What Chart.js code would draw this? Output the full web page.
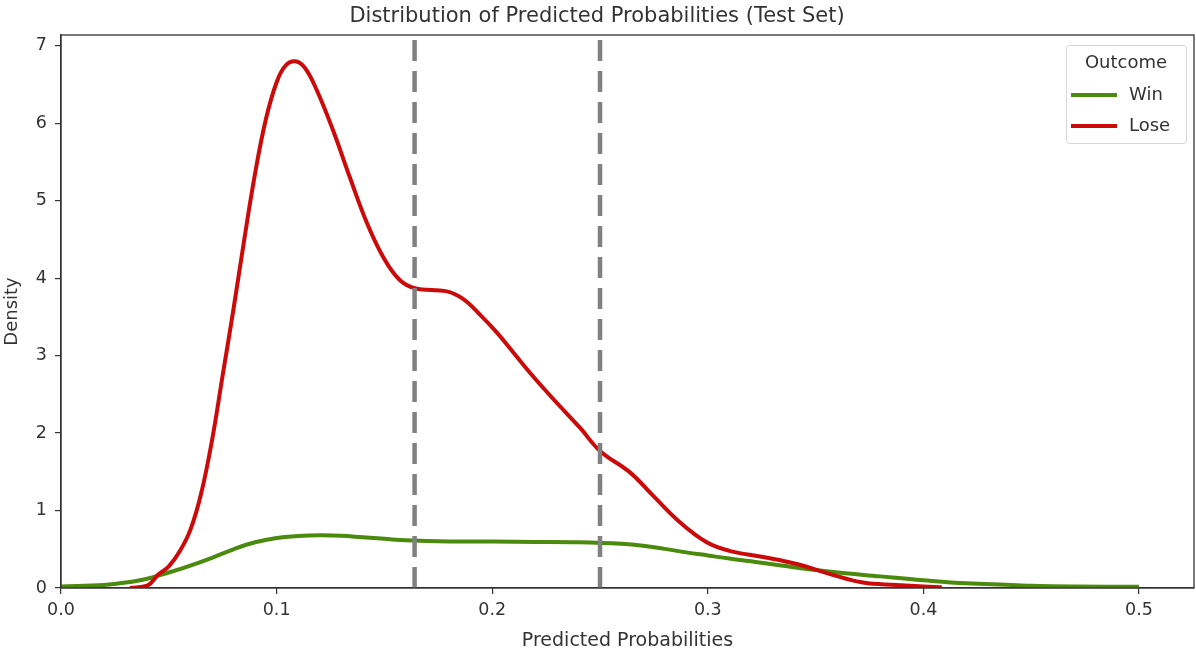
<!DOCTYPE html>
<html>
<head>
<meta charset="utf-8">
<title>Distribution of Predicted Probabilities</title>
<script src="https://cdn.jsdelivr.net/npm/chart.js@4.4.1/dist/chart.umd.min.js"></script>
<style>
  html, body { margin: 0; padding: 0; background: #fff; }
  #wrap { width: 1196px; height: 655px; }
</style>
</head>
<body>
<div id="wrap"><canvas id="kdeChart"></canvas></div>
<script>
// KDE curves of predicted probability, per outcome
const winProb = [0, 0.02, 0.03, 0.04, 0.05, 0.06, 0.07, 0.08, 0.09, 0.1, 0.11, 0.12, 0.13, 0.14, 0.15, 0.16, 0.18, 0.2, 0.22, 0.24, 0.26, 0.27, 0.28, 0.29, 0.3, 0.31, 0.32, 0.334, 0.357, 0.38, 0.4, 0.42, 0.45, 0.47, 0.5];
const winDensity = [0.02, 0.04, 0.07, 0.12, 0.2, 0.29, 0.39, 0.5, 0.59, 0.645, 0.67, 0.68, 0.675, 0.655, 0.635, 0.615, 0.6, 0.6, 0.595, 0.59, 0.57, 0.545, 0.505, 0.46, 0.42, 0.38, 0.345, 0.29, 0.21, 0.15, 0.1, 0.06, 0.03, 0.02, 0.015];

const loseProb = [0.032, 0.04, 0.045, 0.05, 0.055, 0.06, 0.065, 0.07, 0.075, 0.08, 0.085, 0.09, 0.095, 0.1, 0.104, 0.1085, 0.113, 0.1186, 0.1263, 0.134, 0.1418, 0.1495, 0.157, 0.1642, 0.179, 0.1866, 0.1943, 0.2021, 0.2098, 0.2175, 0.2283, 0.2407, 0.25, 0.264, 0.2747, 0.287, 0.2995, 0.31, 0.3257, 0.3412, 0.3567, 0.372, 0.3876, 0.4, 0.4085];
const loseDensity = [0, 0.03, 0.17, 0.28, 0.47, 0.75, 1.22, 1.9, 2.75, 3.6, 4.5, 5.35, 6.05, 6.53, 6.74, 6.8, 6.72, 6.43, 5.9, 5.3, 4.72, 4.27, 3.98, 3.87, 3.83, 3.73, 3.53, 3.3, 3.04, 2.78, 2.44, 2.07, 1.77, 1.49, 1.19, 0.85, 0.59, 0.48, 0.4, 0.31, 0.18, 0.07, 0.04, 0.02, 0.01];

// decision thresholds
const thresholds = [0.164, 0.25];

const xTicks = [0, 0.1, 0.2, 0.3, 0.4, 0.5];
const yTicks = [0, 1, 2, 3, 4, 5, 6, 7];
const xMax = 0.5255;
const yMax = 7.14;

const outcomes = ['Win', 'Lose'];
const colors = { Win: '#4a8a0c', Lose: '#cc0a0a' };

const FONT = "'DejaVu Sans', sans-serif";
const INK = '#333333';

const toPoints = (xs, ys) => xs.map((x, i) => ({ x: x, y: ys[i] }));

const kdeSets = [
  { label: 'Win', data: toPoints(winProb, winDensity), borderColor: colors.Win, order: 2 },
  { label: 'Lose', data: toPoints(loseProb, loseDensity), borderColor: colors.Lose, order: 1 }
].map(ds => Object.assign(ds, {
  borderWidth: 4,
  pointRadius: 0,
  fill: false,
  tension: 0.4
}));

const thresholdSets = thresholds.map(t => ({
  label: 'threshold',
  data: [{ x: t, y: 0 }, { x: t, y: yMax }],
  borderColor: '#808080',
  borderWidth: 4.5,
  borderDash: [21, 10],
  pointRadius: 0,
  fill: false,
  order: 0
}));

// axes frame on all four sides
const frame = {
  id: 'frame',
  afterDatasetsDraw(chart) {
    const { ctx, chartArea: a } = chart;
    ctx.save();
    ctx.strokeStyle = INK;
    ctx.lineWidth = 1.3;
    ctx.strokeRect(a.left, a.top, a.right - a.left, a.bottom - a.top);
    ctx.restore();
  }
};

// legend box in the upper right corner
const outcomeLegend = {
  id: 'outcomeLegend',
  afterDraw(chart) {
    const { ctx, chartArea: a } = chart;
    const w = 120, h = 98;
    const left = a.right - 8 - w, top = a.top + 10;
    ctx.save();
    ctx.fillStyle = 'rgba(255,255,255,0.85)';
    ctx.strokeStyle = '#d6d6d6';
    ctx.lineWidth = 1;
    ctx.beginPath();
    ctx.roundRect(left + 0.5, top + 0.5, w, h, 3);
    ctx.fill();
    ctx.stroke();

    ctx.fillStyle = INK;
    ctx.font = '18px ' + FONT;
    ctx.textAlign = 'center';
    ctx.textBaseline = 'middle';
    ctx.fillText('Outcome', left + w / 2, top + 18);

    ctx.textAlign = 'left';
    outcomes.forEach((name, i) => {
      const y = top + 50 + i * 31;
      ctx.strokeStyle = colors[name];
      ctx.lineWidth = 4;
      ctx.beginPath();
      ctx.moveTo(left + 5, y);
      ctx.lineTo(left + 51, y);
      ctx.stroke();
      ctx.fillStyle = INK;
      ctx.fillText(name, left + 63, y);
    });
    ctx.restore();
  }
};

new Chart(document.getElementById('kdeChart'), {
  type: 'line',
  data: { datasets: kdeSets.concat(thresholdSets) },
  plugins: [frame, outcomeLegend],
  options: {
    responsive: true,
    maintainAspectRatio: false,
    animation: false,
    layout: { padding: { left: 0, right: 2, top: 0, bottom: 0 } },
    plugins: {
      legend: { display: false },
      tooltip: { enabled: false },
      title: {
        display: true,
        text: 'Distribution of Predicted Probabilities (Test Set)',
        color: INK,
        font: { family: FONT, size: 21, weight: 'normal' },
        padding: { top: 4, bottom: 5.8 }
      }
    },
    scales: {
      x: {
        type: 'linear',
        min: 0,
        max: xMax,
        afterBuildTicks: s => { s.ticks = xTicks.map(v => ({ value: v })); },
        afterFit: s => { s.height = 67; },
        grid: { drawOnChartArea: false, drawTicks: true, tickLength: 6, color: INK, lineWidth: 1.2 },
        border: { color: INK, width: 1.3 },
        ticks: {
          color: INK,
          padding: 6,
          maxRotation: 0,
          font: { family: FONT, size: 17.5 },
          callback: v => v.toFixed(1)
        },
        title: {
          display: true,
          text: 'Predicted Probabilities',
          color: INK,
          font: { family: FONT, size: 19 },
          padding: { top: 2, bottom: 3 }
        }
      },
      y: {
        type: 'linear',
        min: 0,
        max: yMax,
        afterBuildTicks: s => { s.ticks = yTicks.map(v => ({ value: v })); },
        afterFit: s => { s.width = 61; },
        grid: { drawOnChartArea: false, drawTicks: true, tickLength: 6, color: INK, lineWidth: 1.2 },
        border: { color: INK, width: 1.3 },
        ticks: {
          color: INK,
          padding: 8,
          font: { family: FONT, size: 17.5 },
          callback: v => String(v)
        },
        title: {
          display: true,
          text: 'Density',
          color: INK,
          font: { family: FONT, size: 18 },
          padding: { top: 2, bottom: 0 }
        }
      }
    }
  }
});
</script>
</body>
</html>
